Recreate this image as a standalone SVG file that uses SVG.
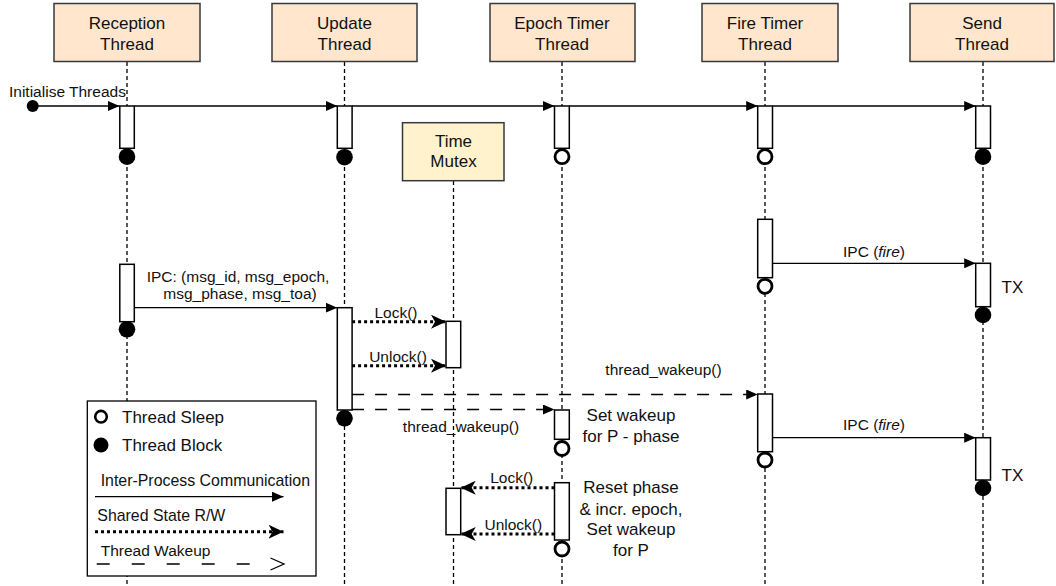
<svg xmlns="http://www.w3.org/2000/svg" width="1056" height="586" viewBox="0 0 1056 586">
  <style>
    text { font-family: "Liberation Sans", Arial, sans-serif; fill: #111; }
    .hdr { fill: #ffe6cc; stroke: #36393d; stroke-width: 1.5; }
    .mtx { fill: #fff2cc; stroke: #36393d; stroke-width: 1.5; }
    .title { font-size: 17px; text-anchor: middle; }
    .note { font-size: 17px; text-anchor: middle; }
    .lbl { font-size: 15.5px; text-anchor: middle; }
    .life { stroke: #000; stroke-width: 1.3; stroke-dasharray: 4 3; fill: none; }
    .act { fill: #fff; stroke: #000; stroke-width: 1.5; }
    .sleep { fill: #fff; stroke: #000; stroke-width: 2.8; }
    .block { fill: #000; }
    .ipc { stroke: #000; stroke-width: 1.3; fill: none; marker-end: url(#ipc); }
    .rw { stroke: #000; stroke-width: 3; stroke-dasharray: 3 3; fill: none; marker-end: url(#rw); }
    .wake { stroke: #000; stroke-width: 1.3; stroke-dasharray: 12 11; fill: none; marker-end: url(#ipc); }
  </style>
  <defs>
    <marker id="ipc" markerUnits="userSpaceOnUse" markerWidth="12" markerHeight="10" refX="11.5" refY="5" orient="auto">
      <path d="M0,0 L11.5,5 L0,10 Z" fill="#000"/>
    </marker>
    <marker id="rw" markerUnits="userSpaceOnUse" markerWidth="16" markerHeight="14" refX="15" refY="7" orient="auto">
      <path d="M0,0 L15,7 L0,14 L4,7 Z" fill="#000"/>
    </marker>
  </defs>

  <!-- lifelines with their headers -->
  <g id="reception-thread">
    <line class="life" x1="127" y1="62" x2="127" y2="586"/>
    <rect class="hdr" x="54" y="3.5" width="146" height="58"/>
    <text class="title" x="127" y="28.5">Reception</text>
    <text class="title" x="127" y="50">Thread</text>
  </g>
  <g id="update-thread">
    <line class="life" x1="344.5" y1="62" x2="344.5" y2="586"/>
    <rect class="hdr" x="272" y="3.5" width="145" height="58"/>
    <text class="title" x="344.5" y="28.5">Update</text>
    <text class="title" x="344.5" y="50">Thread</text>
  </g>
  <g id="epoch-timer-thread">
    <line class="life" x1="562" y1="62" x2="562" y2="586"/>
    <rect class="hdr" x="490" y="3.5" width="145" height="58"/>
    <text class="title" x="562" y="28.5">Epoch Timer</text>
    <text class="title" x="562" y="50">Thread</text>
  </g>
  <g id="fire-timer-thread">
    <line class="life" x1="765" y1="62" x2="765" y2="586"/>
    <rect class="hdr" x="702" y="3.5" width="136" height="58"/>
    <text class="title" x="765" y="28.5">Fire Timer</text>
    <text class="title" x="765" y="50">Thread</text>
  </g>
  <g id="send-thread">
    <line class="life" x1="983" y1="62" x2="983" y2="586"/>
    <rect class="hdr" x="910" y="3.5" width="144" height="58"/>
    <text class="title" x="982" y="28.5">Send</text>
    <text class="title" x="982" y="50">Thread</text>
  </g>
  <g id="time-mutex">
    <line class="life" x1="453.5" y1="181" x2="453.5" y2="586"/>
    <rect class="mtx" x="402.5" y="122.7" width="101.5" height="58"/>
    <text class="title" x="453.5" y="146.7">Time</text>
    <text class="title" x="453.5" y="167.3">Mutex</text>
  </g>

  <!-- activation bars and thread states -->
  <g id="reception-activity">
    <rect class="act" x="119.8" y="106" width="14.5" height="42.3"/>
    <circle class="block" cx="127" cy="156.7" r="8.3"/>
    <rect class="act" x="119.8" y="264.3" width="14.5" height="57.4"/>
    <circle class="block" cx="127" cy="329.3" r="8.3"/>
  </g>
  <g id="update-activity">
    <rect class="act" x="337.3" y="106" width="14.8" height="42.3"/>
    <circle class="block" cx="344.5" cy="157.2" r="8.3"/>
    <rect class="act" x="337.3" y="307.7" width="14.8" height="102.3"/>
    <circle class="block" cx="344.5" cy="418.3" r="8.3"/>
  </g>
  <g id="epoch-activity">
    <rect class="act" x="554.5" y="106" width="14.8" height="42.3"/>
    <circle class="sleep" cx="562" cy="156.7" r="7"/>
    <rect class="act" x="554.5" y="410" width="14.8" height="29.3"/>
    <circle class="sleep" cx="562" cy="448.5" r="7"/>
    <rect class="act" x="554.5" y="482.7" width="14.8" height="57.3"/>
    <circle class="sleep" cx="562" cy="549" r="7"/>
  </g>
  <g id="fire-activity">
    <rect class="act" x="757.7" y="106" width="14.8" height="42.3"/>
    <circle class="sleep" cx="765" cy="156.7" r="7"/>
    <rect class="act" x="757.7" y="219.3" width="14.8" height="58.4"/>
    <circle class="sleep" cx="765" cy="286.3" r="7"/>
    <rect class="act" x="757.7" y="394" width="14.8" height="57.7"/>
    <circle class="sleep" cx="765" cy="460" r="7"/>
  </g>
  <g id="send-activity">
    <rect class="act" x="975.7" y="106" width="14.8" height="42.3"/>
    <circle class="block" cx="983" cy="156.7" r="8.3"/>
    <rect class="act" x="975.7" y="263.3" width="14.8" height="43.4"/>
    <circle class="block" cx="983" cy="315" r="8.3"/>
    <rect class="act" x="975.7" y="437.7" width="14.8" height="42.3"/>
    <circle class="block" cx="983" cy="488" r="8.3"/>
  </g>
  <g id="mutex-activity">
    <rect class="act" x="446" y="321.3" width="14.7" height="46.4"/>
    <rect class="act" x="446" y="488.3" width="14.7" height="46.4"/>
  </g>

  <!-- connectors -->
  <g id="connectors">
    <!-- start-up -->
    <circle class="block" cx="32.7" cy="106" r="6"/>
    <line class="ipc" x1="32.7" y1="106" x2="119.5" y2="106"/>
    <line class="ipc" x1="134.3" y1="106" x2="337.3" y2="106"/>
    <line class="ipc" x1="352.1" y1="106" x2="554.5" y2="106"/>
    <line class="ipc" x1="569.3" y1="106" x2="757.7" y2="106"/>
    <line class="ipc" x1="772.5" y1="106" x2="975.7" y2="106"/>
    <text class="lbl" x="9" y="97" style="text-anchor:start">Initialise Threads</text>

    <!-- fire timer to send -->
    <line class="ipc" x1="772.5" y1="263.3" x2="975.7" y2="263.3"/>
    <text class="lbl" x="874" y="256.7">IPC (<tspan font-style="italic">fire</tspan>)</text>

    <!-- received message -->
    <line class="ipc" x1="134.3" y1="307.7" x2="337.3" y2="307.7"/>
    <text class="lbl" x="238" y="281.7">IPC: (msg_id, msg_epoch,</text>
    <text class="lbl" x="240" y="299.3">msg_phase, msg_toa)</text>

    <!-- update thread takes the mutex -->
    <line class="rw" x1="352.1" y1="321.7" x2="446" y2="321.7"/>
    <text class="lbl" x="396" y="318">Lock()</text>
    <line class="rw" x1="352.1" y1="365.7" x2="446" y2="365.7"/>
    <text class="lbl" x="398" y="361.5">Unlock()</text>

    <!-- wakeups -->
    <line class="wake" x1="352.1" y1="394.5" x2="757.7" y2="394.5"/>
    <text class="lbl" x="663.5" y="375">thread_wakeup()</text>
    <line class="wake" x1="352.1" y1="409.5" x2="554.5" y2="409.5"/>
    <text class="lbl" x="461" y="431.7">thread_wakeup()</text>

    <!-- second fire -->
    <line class="ipc" x1="772.5" y1="437.7" x2="975.7" y2="437.7"/>
    <text class="lbl" x="874" y="430">IPC (<tspan font-style="italic">fire</tspan>)</text>

    <!-- epoch thread takes the mutex -->
    <line class="rw" x1="554.5" y1="487.7" x2="460.7" y2="487.7"/>
    <text class="lbl" x="511.7" y="482.5">Lock()</text>
    <line class="rw" x1="554.5" y1="534" x2="460.7" y2="534"/>
    <text class="lbl" x="513.3" y="529.5">Unlock()</text>
  </g>

  <!-- notes beside activations -->
  <g id="notes">
    <text class="note" x="1001.5" y="293" style="text-anchor:start">TX</text>
    <text class="note" x="1001.5" y="480.5" style="text-anchor:start">TX</text>
    <text class="note" x="631" y="421">Set wakeup</text>
    <text class="note" x="631" y="441.7">for P - phase</text>
    <text class="note" x="631" y="493.3">Reset phase</text>
    <text class="note" x="631" y="514.5">&amp; incr. epoch,</text>
    <text class="note" x="631" y="535">Set wakeup</text>
    <text class="note" x="631" y="555.5">for P</text>
  </g>

  <!-- legend -->
  <g id="legend">
    <rect x="87.3" y="401" width="228.7" height="175" fill="#fff" stroke="#000" stroke-width="1.3"/>
    <circle cx="101" cy="416.7" r="5.8" fill="#fff" stroke="#000" stroke-width="2.6"/>
    <text x="122" y="422.5" font-size="17">Thread Sleep</text>
    <circle class="block" cx="101" cy="445" r="7.5"/>
    <text x="122" y="451" font-size="17">Thread Block</text>
    <text x="100.7" y="485.7" font-size="15.9">Inter-Process Communication</text>
    <line class="ipc" x1="95" y1="496.7" x2="283.5" y2="496.7"/>
    <text x="97.3" y="520.7" font-size="15.9">Shared State R/W</text>
    <line class="rw" x1="95" y1="531.7" x2="283.5" y2="531.7"/>
    <text x="100.7" y="555.7" font-size="15.5">Thread Wakeup</text>
    <line x1="96.7" y1="564" x2="258" y2="564" stroke="#000" stroke-width="1.3" stroke-dasharray="13 22"/>
    <path d="M270.5,558 L284,564 L270.5,570" fill="none" stroke="#000" stroke-width="1.3"/>
  </g>
</svg>
